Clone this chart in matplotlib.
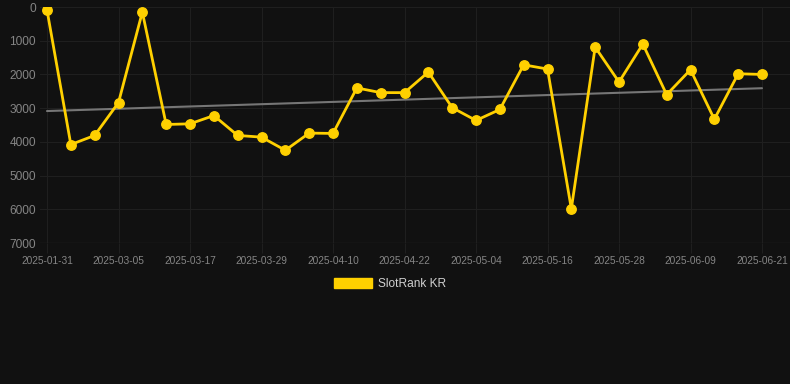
import numpy as np
import matplotlib
matplotlib.use('Agg')
import matplotlib.pyplot as plt
import matplotlib.patches as mpatches

plt.rcParams['font.family'] = ['Liberation Sans', 'DejaVu Sans']

# Даты наблюдений (подписи показываются через каждые три точки)
dates = [
    '2025-01-31', '2025-02-11', '2025-02-22', '2025-03-05', '2025-03-09',
    '2025-03-13', '2025-03-17', '2025-03-21', '2025-03-25', '2025-03-29',
    '2025-04-02', '2025-04-06', '2025-04-10', '2025-04-14', '2025-04-18',
    '2025-04-22', '2025-04-26', '2025-04-30', '2025-05-04', '2025-05-08',
    '2025-05-12', '2025-05-16', '2025-05-20', '2025-05-24', '2025-05-28',
    '2025-06-01', '2025-06-05', '2025-06-09', '2025-06-13', '2025-06-17',
    '2025-06-21',
]
rank = [
    90, 4080, 3810, 2835, 150, 3485, 3465, 3220, 3810, 3860,
    4250, 3740, 3750, 2400, 2540, 2540, 1930, 2985, 3365, 3040,
    1715, 1840, 5985, 1190, 2225, 1100, 2600, 1860, 3330, 1980,
    2000,
]
series_name = 'SlotRank KR'
y_ticks = [0, 1000, 2000, 3000, 4000, 5000, 6000, 7000]

BG = '#111111'
GOLD = '#ffd000'
GRID = '#1f1f1f'
TXT = '#858585'

W, H = 790, 384
fig = plt.figure(figsize=(W / 100, H / 100), dpi=100)
fig.patch.set_facecolor(BG)

# Область графика в пикселях: слева 40, справа 790, сверху 7, снизу 243
left, right, top, bottom = 40, 790, 7, 243
ax = fig.add_axes([left / W, 1 - bottom / H, (right - left) / W, (bottom - top) / H])
ax.set_facecolor(BG)

x = np.arange(len(rank))
step = (762 - 47) / (len(rank) - 1)
ax.set_xlim(-(47 - left) / step, (len(rank) - 1) + (right - 762) / step)
ax.set_ylim(7000, 0)

# Линия тренда (МНК)
k, b = np.polyfit(x, rank, 1)
ax.plot([x[0], x[-1]], [k * x[0] + b, k * x[-1] + b], color='#767676', lw=1.5,
        solid_capstyle='round', zorder=2)

ax.plot(x, rank, color=GOLD, lw=2.0, marker='o', markersize=6.8,
        markerfacecolor=GOLD, markeredgecolor=GOLD, zorder=3)

# Сетка и подписи
ax.set_yticks(y_ticks)
ax.set_yticklabels([str(v) for v in y_ticks])
ax.set_xticks(x[::3])
ax.set_xticklabels(dates[::3])
ax.grid(True, color=GRID, lw=0.8)
ax.set_axisbelow(True)
for s in ax.spines.values():
    s.set_visible(False)
ax.axhline(7000, color='#2a2a2a', lw=0.9, zorder=1)
ax.tick_params(axis='y', colors=TXT, labelsize=8.6, length=0, pad=3)
ax.tick_params(axis='x', colors=GRID, labelcolor=TXT, labelsize=7.3, length=7,
               width=0.8, pad=2)

# Легенда под графиком
handle = mpatches.Patch(color=GOLD, label=series_name)
leg = fig.legend(handles=[handle], loc='center', bbox_to_anchor=(390 / W, 1 - 284 / H),
                 frameon=False, fontsize=8.6, handlelength=3.25, handleheight=0.95,
                 handletextpad=0.5, labelcolor='#d0d0d0')

fig.savefig('out.png', dpi=100, facecolor=BG)
